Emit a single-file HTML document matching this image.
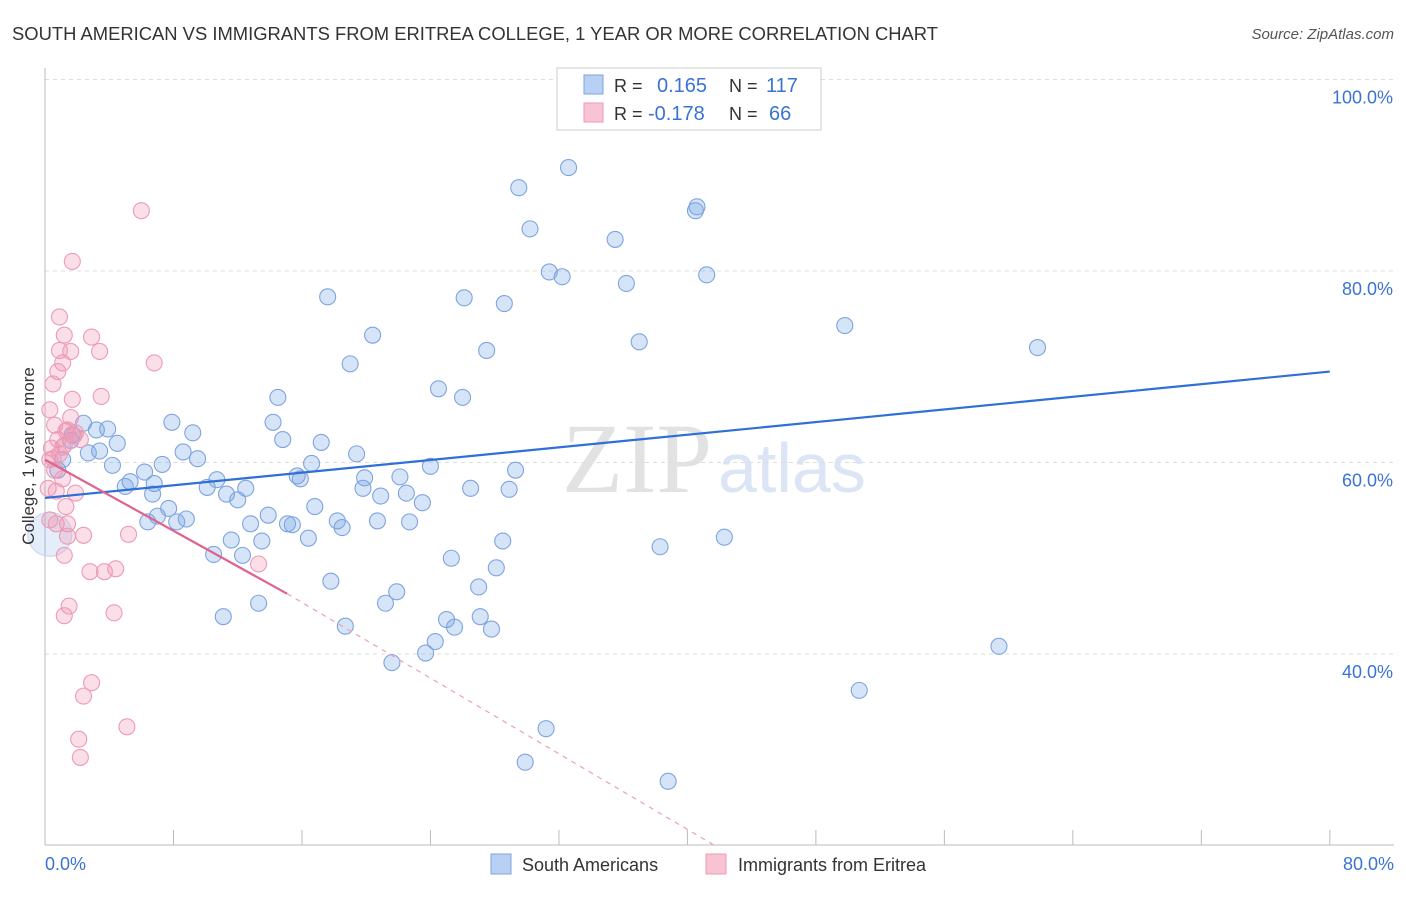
<!DOCTYPE html>
<html><head><meta charset="utf-8"><style>
body{margin:0;background:#fff;width:1406px;height:892px;overflow:hidden;font-family:"Liberation Sans",sans-serif}
</style></head><body>
<svg id="c" width="1406" height="892" xmlns="http://www.w3.org/2000/svg">
<text x="12" y="40" font-size="18" fill="#333" textLength="926" lengthAdjust="spacingAndGlyphs">SOUTH AMERICAN VS IMMIGRANTS FROM ERITREA COLLEGE, 1 YEAR OR MORE CORRELATION CHART</text>
<text x="1394" y="39" font-size="15" fill="#555" font-style="italic" text-anchor="end">Source: ZipAtlas.com</text>
<text x="712" y="492" font-size="100" fill="#e2e2e2" text-anchor="end" font-family="Liberation Serif,serif">ZIP</text>
<text x="718" y="492" font-size="70" fill="#dbe5f5">atlas</text>
<g id="grid"></g>
<g id="pts"></g>
<g id="lines"></g>
<text transform="translate(34,456) rotate(-90)" font-size="17" fill="#333" text-anchor="middle">College, 1 year or more</text>
<text x="45" y="870" font-size="18" fill="#3b73d4">0.0%</text>
<text x="1394" y="870" font-size="18" fill="#3b73d4" text-anchor="end">80.0%</text>
<g>
<rect x="557" y="68" width="264" height="62" fill="#fff" stroke="#ccc"/>
<rect x="584" y="75" width="19" height="19" fill="#b8d0f3" stroke="#7ea4e0"/>
<rect x="584" y="103" width="19" height="19" fill="#f8c4d4" stroke="#ee9ab5"/>
<text x="614" y="92" font-size="18" fill="#333">R =</text><text x="657" y="92" font-size="20" fill="#3b73d4">0.165</text>
<text x="729" y="92" font-size="18" fill="#333">N =</text><text x="766" y="92" font-size="20" fill="#3b73d4">117</text>
<text x="614" y="120" font-size="18" fill="#333">R =</text><text x="648" y="120" font-size="20" fill="#3b73d4">-0.178</text>
<text x="729" y="120" font-size="18" fill="#333">N =</text><text x="769" y="120" font-size="20" fill="#3b73d4">66</text>
</g>
<g>
<rect x="491" y="854" width="20" height="20" fill="#b8d0f3" stroke="#7ea4e0"/>
<text x="522" y="871" font-size="18" fill="#333">South Americans</text>
<rect x="706" y="854" width="20" height="20" fill="#f8c4d4" stroke="#ee9ab5"/>
<text x="738" y="871" font-size="18" fill="#333">Immigrants from Eritrea</text>
</g>
</svg>
<script>
const yTicks=[100,80,60,40];
const xTicks=[0,8,16,24,32,40,48,56,64,72,80];
const blueX=[32.6,29.5,40.5,40.6,30.2,35.5,31.4,32.2,41.2,36.2,17.6,26.1,28.6,49.8,20.4,37.0,61.8,27.5,19.0,24.5,26.0,14.5,7.9,14.2,2.4,3.2,3.9,9.2,1.7,4.5,14.8,17.2,3.4,8.6,19.4,9.5,2.7,7.3,4.2,16.6,24.0,6.2,15.7,29.3,19.9,22.1,10.7,15.9,5.3,5.0,10.1,6.8,12.5,19.8,26.5,28.9,6.7,11.3,20.9,22.5,23.5,12.0,16.8,7.7,7.0,20.7,22.7,18.2,13.9,18.5,12.8,6.4,8.2,8.8,15.1,15.4,16.4,11.6,13.5,28.5,38.3,42.3,10.5,12.3,25.3,28.1,17.8,27.0,21.9,21.2,13.3,11.1,25.0,27.1,25.5,27.8,18.7,24.3,23.7,59.4,21.6,50.7,31.2,29.9,38.8,0.8,1.1,1.6,0.3];
const blueY=[90.8,88.7,86.3,86.7,84.4,83.3,79.9,79.4,79.6,78.7,77.3,77.2,76.6,74.3,73.3,72.6,72.0,71.7,70.3,67.7,66.8,66.8,64.2,64.2,64.1,63.4,63.5,63.1,62.9,62.0,62.4,62.1,61.2,61.1,60.9,60.4,61.0,59.8,59.7,59.9,59.6,59.0,58.6,59.2,58.4,58.5,58.2,58.3,58.0,57.5,57.4,57.8,57.3,57.3,57.3,57.2,56.7,56.7,56.5,56.8,55.8,56.1,55.4,55.2,54.4,53.9,53.8,53.9,54.5,53.2,53.6,53.8,53.8,54.1,53.6,53.5,52.1,51.9,51.8,51.8,51.2,52.2,50.4,50.3,50.0,49.0,47.6,47.0,46.5,45.3,45.3,43.9,43.6,43.9,42.8,42.6,42.9,41.3,40.1,40.8,39.1,36.2,32.2,28.7,26.7,59.2,60.3,62.3,52.5];
const pinkX=[6.0,1.7,0.9,1.2,1.6,3.4,2.9,0.9,6.8,1.1,0.8,0.5,3.5,1.7,0.3,1.6,0.6,1.3,1.8,2.2,0.8,1.2,0.4,0.9,0.3,0.6,1.1,0.2,1.9,0.7,1.3,0.3,0.7,1.4,2.4,5.2,1.4,1.2,13.3,4.4,2.8,3.7,1.5,1.2,4.3,2.9,2.4,5.1,2.1,2.2,1.4,1.9,1.1,0.5];
const pinkY=[86.3,81.0,75.2,73.3,71.6,71.6,73.1,71.7,70.4,70.4,69.5,68.2,66.9,66.6,65.5,64.7,63.9,63.3,62.8,62.4,62.4,61.8,61.5,60.9,60.3,59.2,58.3,57.3,56.8,57.0,55.4,54.0,53.6,53.6,52.4,52.5,52.3,50.3,49.4,48.9,48.6,48.6,45.0,44.0,44.3,37.0,35.6,32.4,31.1,29.2,63.4,63.1,61.6,60.4];
const blueTrend=[[0,56.3],[80,69.5]];
const pinkTrend=[[0,60.3],[15.07,46.3],[41.7,20.0]];
const X=v=>45+v*16.06, Y=v=>79.5+(100-v)*9.575;
const NS="http://www.w3.org/2000/svg";
function mk(t,a,p){const e=document.createElementNS(NS,t);for(const k in a)e.setAttribute(k,a[k]);p.appendChild(e);return e;}
const g=document.getElementById('grid');
yTicks.forEach(v=>{
 const l=mk('line',{x1:45,x2:1394,y1:Y(v),y2:Y(v),stroke:'#ddd','stroke-dasharray':'4,4'},g);
 
 
 const t=mk('text',{x:1393,y:Y(v)+24,'font-size':18,fill:'#3b73d4','text-anchor':'end'},g);t.textContent=v.toFixed(1)+'%';
 
 
});
mk('line',{x1:45,x2:45,y1:68,y2:845,stroke:'#bbb'},g);
mk('line',{x1:45,x2:1394,y1:845,y2:845,stroke:'#bbb'},g);
xTicks.forEach(v=>{const l=mk('line',{x1:X(v),x2:X(v),y1:830,y2:845,stroke:'#bbb'},g);
 
 });
const p=document.getElementById('pts');
blueX.forEach((v,i)=>{const big=i==blueX.length-1;const c=mk('circle',{cx:X(v),cy:Y(blueY[i]),r:big?22:8,fill:big?'rgba(120,165,230,0.2)':'rgba(120,165,230,0.3)',stroke:big?'#c8d8f2':'#7ea4e0','stroke-width':1.1},p);
 
 });
pinkX.forEach((v,i)=>{const c=mk('circle',{cx:X(v),cy:Y(pinkY[i]),r:8,fill:'rgba(240,150,180,0.3)',stroke:'#ee9ab5','stroke-width':1.1},p);
 
 });
const L=document.getElementById('lines');
const b=mk('line',{x1:X(blueTrend[0][0]),y1:Y(blueTrend[0][1]),x2:X(blueTrend[1][0]),y2:Y(blueTrend[1][1]),stroke:'#2f6fd6','stroke-width':2.2},L);


const pk=mk('line',{x1:X(pinkTrend[0][0]),y1:Y(pinkTrend[0][1]),x2:X(pinkTrend[1][0]),y2:Y(pinkTrend[1][1]),stroke:'#e0628f','stroke-width':2.2},L);


const pd=mk('line',{x1:X(pinkTrend[1][0]),y1:Y(pinkTrend[1][1]),x2:X(pinkTrend[2][0]),y2:Y(pinkTrend[2][1]),stroke:'#eaa0bb','stroke-width':1.2,'stroke-dasharray':'5,5'},L);


</script>
</body></html>
